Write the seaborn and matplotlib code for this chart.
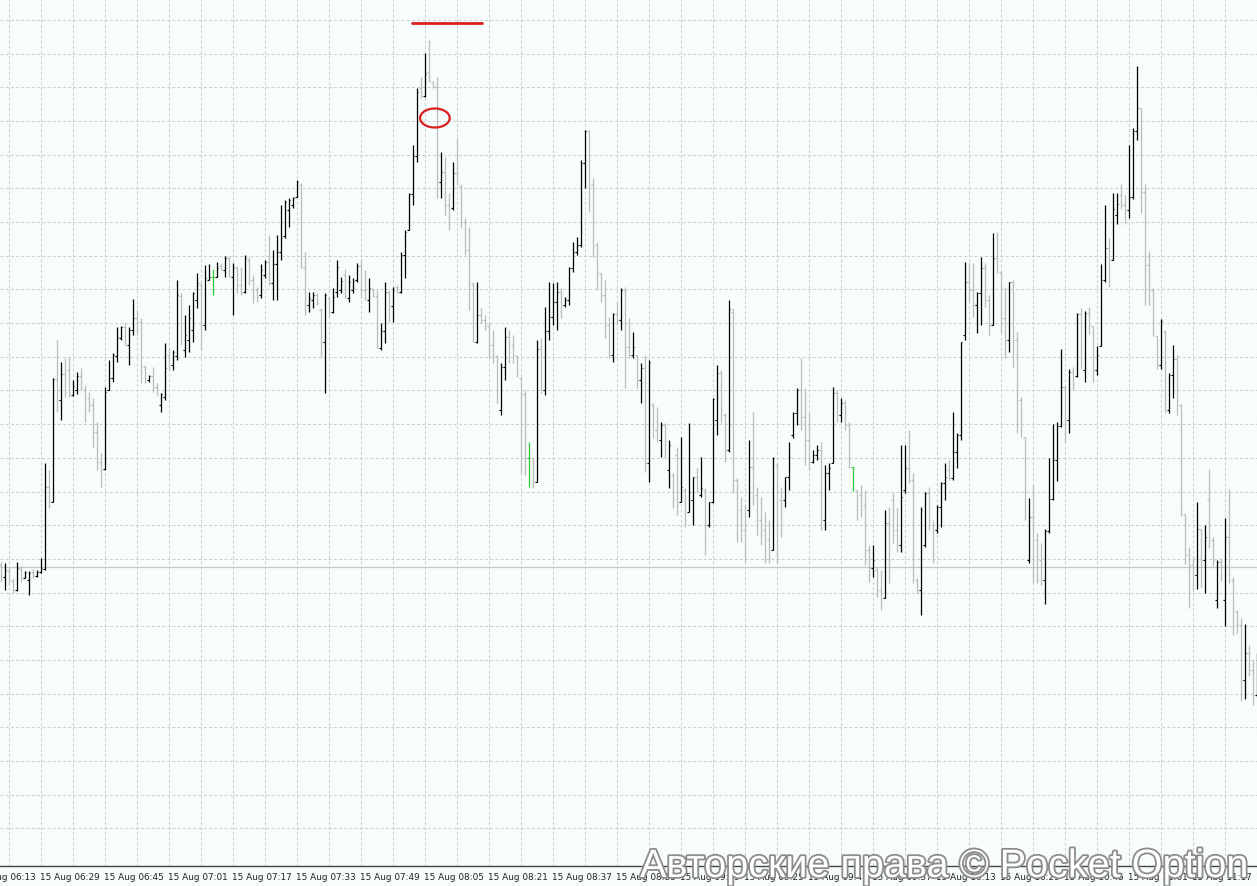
import matplotlib
matplotlib.use("Agg")
import matplotlib.pyplot as plt
import matplotlib.patheffects as pe
from matplotlib.patches import Ellipse
import numpy as np
import pandas as pd
import seaborn as sns

# 1-minute OHLC bars, 15 Aug 06:19 .. 11:33 (price in points)
high = [
    438, 437, 432, 422, 438, 434, 429, 429, 431, 430,
    442, 537, 530, 622, 660, 638, 642, 643, 620, 628,
    632, 615, 608, 602, 578, 547, 613, 640, 647, 673,
    674, 677, 673, 701, 690, 682, 635, 625, 633, 617,
    607, 657, 652, 650, 720, 707, 685, 695, 708, 727,
    718, 735, 736, 731, 738, 737, 744, 744, 737, 734,
    733, 745, 743, 725, 713, 736, 740, 765, 750, 765,
    795, 800, 802, 803, 820, 817, 748, 708, 708, 707,
    692, 707, 703, 712, 740, 723, 731, 725, 722, 737,
    741, 730, 722, 712, 710, 677, 718, 710, 713, 715,
    748, 770, 807, 855, 912, 923, 947, 960, 918, 923,
    848, 843, 807, 838, 862, 816, 782, 773, 718, 718,
    692, 685, 678, 670, 645, 637, 673, 670, 665, 645,
    623, 610, 558, 542, 660, 662, 693, 718, 717, 718,
    712, 703, 733, 758, 763, 840, 870, 870, 822, 758,
    727, 720, 683, 687, 698, 712, 713, 682, 668, 645,
    637, 645, 640, 597, 593, 578, 577, 560, 527, 553,
    563, 512, 577, 523, 532, 543, 512, 498, 602, 635,
    630, 587, 700, 692, 522, 503, 495, 560, 588, 513,
    503, 488, 480, 543, 537, 513, 523, 558, 588, 612,
    642, 612, 588, 550, 555, 558, 535, 537, 613, 610,
    602, 600, 578, 533, 510, 515, 510, 455, 455, 433,
    430, 490, 493, 507, 492, 555, 555, 570, 527, 422,
    493, 508, 513, 480, 495, 518, 537, 540, 588, 567,
    658, 738, 737, 737, 708, 743, 737, 705, 767, 768,
    728, 713, 718, 720, 668, 603, 563, 502, 515, 467,
    457, 471, 542, 576, 578, 651, 614, 631, 633, 687,
    692, 689, 693, 674, 654, 736, 795, 762, 807, 807,
    816, 805, 855, 872, 934, 892, 816, 749, 712, 664,
    681, 670, 627, 655, 645, 596, 486, 453, 444, 498,
    471, 475, 531, 463, 440, 442, 482, 511, 423, 390,
    382, 376, 355, 340, 347,
]
low = [
    418, 410, 415, 407, 409, 418, 422, 405, 422, 423,
    427, 430, 492, 498, 588, 580, 603, 603, 604, 606,
    610, 578, 588, 553, 530, 513, 530, 610, 618, 638,
    660, 655, 635, 665, 665, 617, 617, 618, 608, 605,
    588, 600, 630, 630, 640, 655, 643, 648, 658, 692,
    650, 670, 720, 705, 723, 730, 723, 723, 685, 707,
    705, 707, 715, 697, 698, 702, 722, 715, 700, 700,
    740, 762, 773, 792, 803, 732, 685, 688, 692, 695,
    643, 607, 683, 687, 703, 707, 702, 698, 707, 718,
    702, 700, 688, 703, 652, 650, 657, 678, 678, 707,
    707, 722, 770, 795, 838, 902, 903, 918, 912, 802,
    802, 785, 770, 790, 816, 772, 745, 690, 658, 657,
    677, 670, 642, 637, 597, 585, 620, 637, 637, 623,
    527, 525, 513, 512, 518, 607, 605, 660, 675, 670,
    682, 693, 695, 728, 745, 753, 812, 788, 743, 710,
    698, 662, 642, 638, 675, 670, 612, 642, 642, 612,
    597, 528, 518, 562, 558, 543, 542, 512, 492, 485,
    498, 473, 488, 475, 507, 503, 445, 473, 497, 565,
    577, 538, 548, 507, 458, 458, 438, 483, 495, 465,
    455, 437, 437, 450, 437, 463, 493, 510, 562, 575,
    570, 535, 530, 537, 540, 470, 470, 510, 537, 578,
    578, 570, 532, 509, 480, 483, 435, 418, 423, 403,
    390, 402, 417, 457, 448, 448, 507, 517, 417, 407,
    385, 453, 470, 437, 467, 473, 500, 520, 520, 532,
    560, 660, 698, 683, 667, 675, 693, 665, 675, 727,
    667, 642, 648, 633, 567, 563, 480, 437, 417, 417,
    415, 396, 467, 500, 519, 573, 558, 567, 610, 623,
    631, 618, 666, 618, 625, 654, 718, 713, 740, 776,
    791, 776, 782, 801, 860, 787, 695, 695, 664, 631,
    631, 587, 587, 602, 585, 484, 436, 392, 409, 411,
    413, 407, 452, 434, 392, 419, 374, 417, 365, 367,
    299, 301, 324, 295, 303,
]
open_ = [
    435, 423, 429, 419, 410, 431, 422, 420, 428, 424,
    428, 431, 513, 498, 620, 600, 626, 630, 605, 610,
    624, 610, 602, 595, 568, 538, 531, 610, 622, 644,
    662, 673, 655, 670, 682, 678, 633, 620, 624, 613,
    595, 603, 645, 635, 644, 704, 650, 660, 670, 700,
    715, 675, 720, 723, 723, 734, 730, 742, 723, 732,
    715, 708, 740, 720, 710, 705, 725, 738, 717, 736,
    748, 764, 790, 795, 803, 815, 732, 695, 700, 705,
    690, 658, 702, 688, 708, 710, 725, 702, 710, 720,
    734, 710, 700, 711, 704, 652, 669, 708, 694, 713,
    708, 745, 770, 806, 844, 912, 904, 928, 918, 913,
    818, 828, 795, 792, 827, 814, 778, 750, 716, 658,
    685, 680, 674, 655, 644, 590, 633, 663, 655, 644,
    622, 606, 542, 542, 518, 651, 610, 669, 683, 698,
    708, 695, 700, 732, 748, 755, 837, 869, 815, 755,
    727, 705, 675, 645, 686, 680, 710, 653, 645, 645,
    620, 632, 537, 595, 570, 560, 575, 530, 525, 545,
    498, 510, 488, 500, 523, 505, 510, 475, 498, 580,
    627, 585, 550, 688, 520, 490, 470, 490, 533, 505,
    480, 470, 460, 450, 535, 500, 500, 523, 565, 587,
    610, 583, 560, 538, 545, 550, 480, 527, 537, 607,
    585, 597, 575, 533, 510, 505, 495, 450, 432, 430,
    410, 402, 477, 500, 470, 455, 510, 532, 520, 420,
    410, 455, 507, 475, 470, 493, 517, 530, 522, 548,
    565, 665, 718, 710, 695, 707, 732, 700, 675, 742,
    728, 682, 660, 718, 660, 600, 563, 440, 483, 460,
    440, 420, 469, 501, 540, 574, 613, 580, 628, 624,
    686, 630, 687, 674, 630, 654, 720, 752, 740, 785,
    805, 795, 790, 803, 869, 892, 808, 735, 710, 664,
    635, 668, 590, 625, 641, 595, 486, 445, 435, 425,
    471, 440, 500, 460, 400, 438, 400, 463, 420, 388,
    375, 320, 347, 330, 305,
]
close = [
    424, 430, 420, 410, 432, 422, 428, 427, 424, 428,
    432, 513, 499, 621, 600, 626, 608, 607, 614, 624,
    612, 591, 595, 568, 538, 530, 608, 622, 645, 663,
    673, 655, 670, 682, 670, 635, 622, 624, 612, 605,
    606, 632, 632, 648, 705, 670, 665, 682, 707, 717,
    675, 722, 723, 723, 732, 730, 742, 724, 733, 715,
    707, 742, 720, 703, 703, 730, 738, 717, 736, 748,
    762, 798, 800, 802, 818, 733, 695, 702, 705, 697,
    658, 705, 688, 703, 733, 719, 704, 718, 719, 734,
    710, 702, 712, 704, 652, 669, 708, 682, 710, 708,
    745, 768, 806, 844, 908, 904, 926, 920, 913, 818,
    828, 795, 775, 827, 816, 778, 750, 718, 658, 685,
    680, 674, 655, 645, 605, 633, 663, 648, 645, 630,
    606, 542, 542, 518, 651, 610, 669, 683, 698, 708,
    695, 700, 732, 748, 755, 837, 869, 815, 755, 727,
    705, 675, 645, 686, 680, 710, 653, 645, 653, 620,
    632, 537, 638, 570, 565, 575, 550, 555, 500, 495,
    513, 480, 508, 523, 510, 512, 460, 498, 601, 627,
    590, 550, 691, 520, 475, 470, 455, 533, 500, 480,
    465, 450, 442, 542, 450, 475, 523, 543, 587, 610,
    583, 560, 538, 545, 550, 505, 527, 532, 607, 585,
    597, 575, 533, 533, 490, 490, 450, 430, 440, 410,
    395, 477, 440, 465, 455, 503, 532, 520, 425, 410,
    490, 507, 480, 445, 493, 517, 523, 522, 548, 565,
    658, 718, 710, 695, 707, 732, 700, 675, 742, 730,
    682, 660, 718, 660, 600, 570, 490, 483, 425, 420,
    420, 469, 501, 540, 574, 613, 580, 628, 615, 686,
    655, 687, 675, 630, 645, 720, 752, 730, 791, 796,
    795, 790, 803, 869, 892, 808, 735, 710, 670, 635,
    679, 600, 625, 641, 600, 495, 445, 435, 425, 471,
    440, 463, 460, 440, 438, 425, 463, 425, 390, 375,
    320, 347, 330, 305, 335,
]

tick_bars = [-6, 10, 26, 42, 58, 74, 90, 106, 122, 138, 154,
             170, 186, 202, 218, 234, 250, 266, 282, 298, 314]
tick_labels = ["15 Aug 06:13", "15 Aug 06:29", "15 Aug 06:45", "15 Aug 07:01",
               "15 Aug 07:17", "15 Aug 07:33", "15 Aug 07:49", "15 Aug 08:05",
               "15 Aug 08:21", "15 Aug 08:37", "15 Aug 08:53", "15 Aug 09:09",
               "15 Aug 09:25", "15 Aug 09:41", "15 Aug 09:57", "15 Aug 10:13",
               "15 Aug 10:29", "15 Aug 10:45", "15 Aug 11:01", "15 Aug 11:17",
               "15 Aug 11:33"]

level_price = 433        # grey horizontal level line
mark_price = 977         # red marker line above the top
bg = "#f7fcfc"

sns.set_style("white")
plt.rcParams['font.family'] = ['DejaVu Sans']

df = pd.DataFrame({"open": open_, "high": high, "low": low, "close": close})
df["bar"] = np.arange(len(df))
df["kind"] = np.where(df["close"] > df["open"], "up",
                      np.where(df["close"] < df["open"], "down", "flat"))
palette = {"up": "#000000", "down": "#bcbcbc", "flat": "#2ecc2e"}
cols = list(df["kind"].map(palette))

fig = plt.figure(figsize=(12.57, 8.86), dpi=100)
fig.patch.set_facecolor(bg)
ax = fig.add_axes([0, 20 / 886, 1, 866 / 886])
ax.set_facecolor(bg)

# dashed grid
for p in np.arange(980, 160, -33.68):
    ax.axhline(p, color="#d0d0d0", lw=0.75, ls=(0, (3, 2)), zorder=0)
for b in range(2, 316, 8):
    ax.axvline(b, color="#d0d0d0", lw=0.75, ls=(0, (3, 2)), zorder=0)
ax.axhline(level_price, color="#c8c8c8", lw=0.9, zorder=1)

# OHLC bars
ax.vlines(df["bar"], df["low"], df["high"], colors=cols, lw=0.9, zorder=3)
ax.hlines(df["open"], df["bar"] - 0.4, df["bar"], colors=cols, lw=0.8, zorder=3)
ax.hlines(df["close"], df["bar"], df["bar"] + 0.4, colors=cols, lw=0.8, zorder=3)

# red annotations
ax.hlines(mark_price, 102.9, 120.4, colors="#d91e1e", lw=2.0, capstyle="round", zorder=5)
ax.add_patch(Ellipse((108.6, 882), 7.4, 19, fill=False, ec="#d91e1e", lw=1.6, zorder=5))

ax.set_yticks([])
ax.set_xticks(tick_bars[1:])
ax.set_xticklabels(tick_labels[1:], ha="left", fontsize=6.4, color="#222222")
ax.tick_params(axis="x", length=3, width=0.7, color="#444444", pad=2)
# first label sits left of the view and is only partly visible
ax.annotate(tick_labels[0], xy=(tick_bars[0], 0), xycoords=("data", "axes fraction"),
            xytext=(0, -5), textcoords="offset points", ha="left", va="top",
            fontsize=6.4, color="#222222", annotation_clip=False)
# limits after the ticks, so ticks outside the view do not widen it
ax.set_xlim(-0.125, 314.125)
ax.set_ylim(134, 1000)
for s in ["top", "right", "left"]:
    ax.spines[s].set_visible(False)
ax.spines["bottom"].set_color("#444444")
ax.spines["bottom"].set_linewidth(1.0)

# watermark
fig.text(640 / 1257, 9 / 886, "Авторские права © Pocket Option",
         fontsize=28.5, family="Liberation Sans", color="white", ha="left",
         va="baseline", zorder=10,
         path_effects=[pe.Stroke(linewidth=2.6, foreground="#8c8c8c"), pe.Normal()])

fig.savefig("out.png", dpi=100, facecolor=bg)
